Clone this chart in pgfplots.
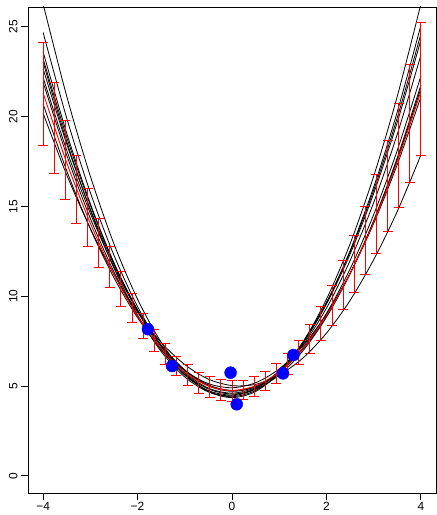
\documentclass[border=0pt]{standalone}
\usepackage{pgfplots}
\pgfplotsset{compat=1.18}
\usepackage{pgfplotstable}
\usepackage{fontspec}
\setmainfont{Liberation Sans}

% quadratic fits, sampled every 0.5
\pgfplotstableread{
x     c1    c2    c3    c4    c5    c6    c7    c8    c9    c10   red
-4.0  26.27 20.18 24.68 23.60 23.22 23.03 22.66 22.17 21.91 20.70 21.31
-3.5  21.13 16.75 19.91 19.07 18.85 18.61 18.47 18.12 17.85 16.98 17.43
-3.0  16.68 13.77 15.77 15.15 15.06 14.79 14.84 14.61 14.33 13.75 14.06
-2.5  12.91 11.21 12.28 11.84 11.85 11.56 11.76 11.63 11.35 11.03 11.21
-2.0   9.83  9.10  9.42  9.15  9.23  8.94  9.24  9.18  8.91  8.80  8.88
-1.5   7.43  7.42  7.21  7.07  7.20  6.92  7.27  7.27  7.01  7.08  7.07
-1.0   5.72  6.19  5.63  5.60  5.75  5.50  5.86  5.90  5.65  5.85  5.77
-0.5   4.69  5.38  4.70  4.74  4.88  4.67  5.00  5.06  4.83  5.13  5.00
 0.0   4.35  5.02  4.40  4.50  4.60  4.45  4.70  4.75  4.55  4.90  4.75
 0.5   4.69  5.09  4.75  4.87  4.91  4.83  4.95  4.98  4.81  5.18  5.01
 1.0   5.72  5.61  5.73  5.85  5.80  5.81  5.76  5.75  5.61  5.95  5.79
 1.5   7.43  6.55  7.36  7.44  7.27  7.38  7.12  7.05  6.95  7.23  7.10
 2.0   9.83  7.94  9.62  9.65  9.33  9.56  9.04  8.88  8.83  9.00  8.92
 2.5  12.91  9.76 12.53 12.47 11.98 12.34 11.51 11.25 11.25 11.28 11.26
 3.0  16.68 12.03 16.07 15.90 15.21 15.72 14.54 14.16 14.21 14.05 14.12
 3.5  21.13 14.72 20.26 19.94 19.02 19.69 18.12 17.60 17.71 17.33 17.50
 4.0  26.27 17.86 25.08 24.60 23.42 24.27 22.26 21.57 21.75 21.10 21.39
}\fits

% interval ends at 35 points
\pgfplotstableread{
x        lo     hi
-4.0000  18.37  24.14
-3.7647  16.83  21.92
-3.5294  15.36  19.78
-3.2941  14.02  17.81
-3.0588  12.74  15.99
-2.8235  11.57  14.30
-2.5882  10.47  12.76
-2.3529   9.45  11.37
-2.1176   8.53  10.16
-1.8824   7.65   9.05
-1.6471   6.91   8.15
-1.4118   6.17   7.34
-1.1765   5.57   6.66
-0.9412   5.05   6.20
-0.7059   4.59   5.76
-0.4706   4.37   5.52
-0.2353   4.18   5.37
 0.0000   4.15   5.31
 0.2353   4.22   5.33
 0.4706   4.42   5.53
 0.7059   4.73   5.82
 0.9412   5.13   6.24
 1.1765   5.65   6.78
 1.4118   6.17   7.52
 1.6471   6.82   8.40
 1.8824   7.52   9.42
 2.1176   8.34  10.61
 2.3529   9.23  11.96
 2.5882  10.18  13.40
 2.8235  11.23  15.00
 3.0588  12.39  16.79
 3.2941  13.62  18.66
 3.5294  14.91  20.71
 3.7647  16.34  22.88
 4.0000  17.85  25.21
}\bars

\begin{document}
\begin{tikzpicture}
\useasboundingbox (-28bp,-22bp) rectangle (409bp,493bp);
\begin{axis}[
  at={(0,0)}, anchor=south west,
  scale only axis, width=408bp, height=486bp,
  xmin=-4.32, xmax=4.32, ymin=-0.96, ymax=26.1,
  xtick={-4,-2,0,2,4}, xticklabels={−4,−2,0,2,4},
  ytick={0,5,10,15,20,25},
  tick pos=left, tick align=outside, major tick length=7bp,
  tick style={black, line width=0.8bp},
  axis line style={line width=0.8bp},
  ticklabel style={font=\fontsize{12}{14}\selectfont},
  xticklabel style={yshift=1bp},
  yticklabel style={rotate=90, anchor=south},
  /pgf/number format/assume math mode=true,
]
\pgfplotsinvokeforeach{c1,c2,c3,c4,c5,c6,c7,c8,c9,c10}{
  \addplot[black, line width=0.8bp, smooth] table[x=x, y=#1] {\fits};
}
\addplot[red, line width=0.9bp, smooth] table[x=x, y=red] {\fits};
% vertical interval lines
\addplot[red, line width=1bp, no marks,
  quiver={u=0, v=\thisrow{hi}-\thisrow{lo}}]
  table[x=x, y=lo] {\bars};
% caps
\addplot[red, only marks, mark=-, mark size=5bp,
  mark options={line width=1bp}] table[x=x, y=lo] {\bars};
\addplot[red, only marks, mark=-, mark size=5bp,
  mark options={line width=1bp}] table[x=x, y=hi] {\bars};
\addplot[only marks, mark=*, blue, mark size=6bp] coordinates {
  (-1.78,8.16) (-1.27,6.11) (-0.03,5.74) (0.10,3.98) (1.08,5.70) (1.30,6.72)};
\end{axis}
\end{tikzpicture}
\end{document}
